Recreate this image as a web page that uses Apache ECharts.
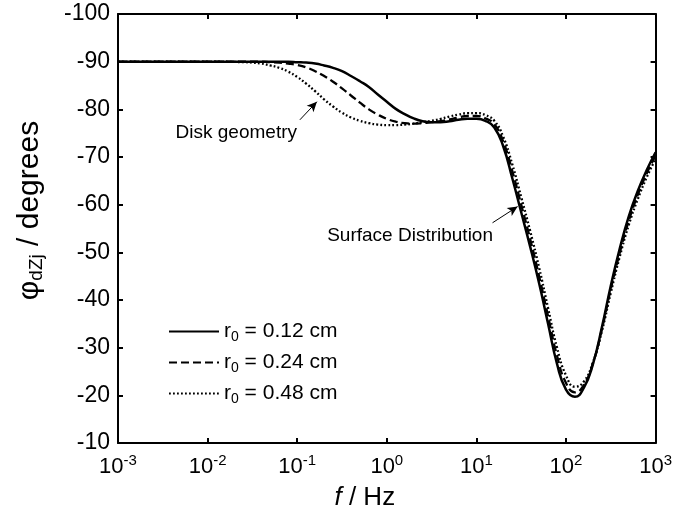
<!DOCTYPE html>
<html>
<head>
<meta charset="utf-8">
<script src="https://cdn.jsdelivr.net/npm/echarts@6/dist/echarts.min.js"></script>
<style>
  html, body { margin: 0; padding: 0; background: #fff; }
  #chart { width: 675px; height: 517px; }
</style>
</head>
<body>
<div id="chart"></div>
<script>
// Phase angle of the impedance vs. frequency for three electrode radii
// x values are log10(f / Hz)
const log10Freq = [-3, -2, -1.6, -1.5, -1.4, -1.3, -1.2, -1.1, -1.0, -0.9, -0.8, -0.7, -0.6, -0.5, -0.4, -0.3, -0.2, -0.1,
  0.0, 0.1, 0.2, 0.3, 0.4, 0.5, 0.6, 0.7, 0.8, 0.9, 1.0, 1.1, 1.2, 1.3, 1.4, 1.5, 1.6, 1.7, 1.8, 1.9,
  2.0, 2.1, 2.2, 2.3, 2.4, 2.5, 2.6, 2.7, 2.8, 2.9, 3.0];

const radii = [0.12, 0.24, 0.48];

const phaseR012 = [-90, -90, -90, -90, -90, -90, -90, -90, -89.9, -89.8, -89.6, -89.2, -88.7, -88.0, -87.0, -85.9, -84.7, -83.1,
  -81.6, -80.1, -79.0, -78.1, -77.5, -77.3, -77.3, -77.5, -77.8, -78.0, -78.0, -77.6, -76.2, -72.2, -65.6, -58.4, -51.2, -43.5, -35.0, -26.6,
  -21.2, -19.7, -21.6, -26.5, -34.2, -43.0, -50.8, -57.5, -62.8, -67.2, -71.0];

const phaseR024 = [-90, -90, -90, -90, -90, -89.9, -89.8, -89.6, -89.3, -88.8, -88.0, -87.0, -85.8, -84.4, -82.9, -81.4, -80.0, -78.9,
  -78.0, -77.4, -77.1, -77.0, -77.1, -77.3, -77.5, -77.9, -78.3, -78.6, -78.6, -78.1, -76.9, -73.2, -67.1, -60.0, -52.8, -45.0, -36.6, -28.3,
  -22.6, -20.6, -22.2, -26.7, -33.8, -42.3, -49.9, -56.6, -62.0, -66.5, -70.3];

const phaseR048 = [-90, -90, -89.9, -89.8, -89.6, -89.2, -88.7, -87.9, -86.8, -85.4, -83.8, -82.1, -80.6, -79.3, -78.3, -77.6, -77.1, -76.8,
  -76.7, -76.7, -76.8, -77.0, -77.3, -77.6, -78.0, -78.5, -78.9, -79.2, -79.2, -78.8, -77.6, -74.2, -68.5, -61.6, -54.5, -46.8, -38.3, -30.0,
  -24.2, -21.8, -22.9, -26.9, -33.4, -41.5, -49.1, -55.7, -61.1, -65.7, -69.6];

const yTicks = { min: -100, max: -10, step: 10 };
const xTicks = { min: -3, max: 3, step: 1 };

const FONT = 'Liberation Sans, Arial, sans-serif';

function pairs(values) {
  return log10Freq.map((lf, i) => [lf, values[i]]);
}

const seriesNames = radii.map(r => 'r0 = ' + r.toFixed(2) + ' cm');
const lineStyles = [
  { type: 'solid', width: 2.5 },
  { type: [8, 4], width: 2.3 },
  { type: [1.8, 2.2], width: 2.3 }
];
const seriesValues = [phaseR012, phaseR024, phaseR048];

const chart = echarts.init(document.getElementById('chart'), null, { renderer: 'canvas' });

const axisCommon = {
  axisLine: { show: true, onZero: false, lineStyle: { color: '#000', width: 2 } },
  axisTick: { show: true, inside: true, length: 5, lineStyle: { color: '#000', width: 2 } },
  splitLine: { show: false }
};

const series = seriesValues.map((vals, i) => ({
  name: seriesNames[i],
  type: 'line',
  data: pairs(vals),
  smooth: 0.5,
  showSymbol: false,
  symbol: 'none',
  lineStyle: Object.assign({ color: '#000' }, lineStyles[i]),
  itemStyle: { color: '#000' },
  z: 3 - i
}));

// annotation arrows and texts
series[0].markLine = {
  silent: true,
  symbol: ['none', 'arrow'],
  symbolSize: [7, 10],
  label: { show: false },
  lineStyle: { color: '#000', type: 'solid', width: 1 },
  data: [
    [{ coord: [-0.97, -77.8] }, { coord: [-0.78, -81.6] }],
    [{ coord: [1.18, -56.2] }, { coord: [1.46, -59.6] }]
  ]
};
series[0].markPoint = {
  silent: true,
  symbol: 'rect',
  symbolSize: 0,
  data: [
    { coord: [-1.68, -75.0], value: 'Disk geometry' },
    { coord: [0.26, -53.4], value: 'Surface Distribution' }
  ],
  label: {
    show: true, position: 'inside', color: '#000', fontFamily: FONT, fontSize: 19,
    formatter: p => p.value
  }
};

chart.setOption({
  animation: false,
  backgroundColor: '#fff',
  grid: { left: 118, right: 19, top: 14, bottom: 74, containLabel: false },
  legend: {
    orient: 'vertical',
    left: 163,
    top: 316,
    itemWidth: 50,
    itemHeight: 14,
    itemGap: 8,
    data: seriesNames,
    itemStyle: { opacity: 0 },
    formatter: name => '{t|r}{s|0}{t|' + name.slice(2) + '}',
    textStyle: {
      color: '#000',
      fontFamily: FONT,
      rich: {
        t: { fontSize: 21, fontFamily: FONT, color: '#000' },
        s: { fontSize: 14, fontFamily: FONT, color: '#000', padding: [11, 0, 0, 0] }
      }
    }
  },
  xAxis: [
    Object.assign({}, axisCommon, {
      type: 'value', position: 'bottom',
      min: xTicks.min, max: xTicks.max, interval: xTicks.step,
      name: '{i|f}{n| / Hz}',
      nameLocation: 'middle',
      nameGap: 42,
      nameTextStyle: {
        padding: [0, 44, 0, 0],
        rich: {
          i: { fontSize: 26, fontStyle: 'italic', fontFamily: FONT, color: '#000' },
          n: { fontSize: 26, fontFamily: FONT, color: '#000' }
        }
      },
      axisLabel: {
        margin: 10,
        color: '#000',
        formatter: v => '{b|10}{e|' + v + '}',
        rich: {
          b: { fontSize: 22, fontFamily: FONT, color: '#000' },
          e: { fontSize: 15, fontFamily: FONT, color: '#000', padding: [0, 0, 12, 0] }
        }
      }
    }),
    Object.assign({}, axisCommon, {
      type: 'value', position: 'top',
      min: xTicks.min, max: xTicks.max, interval: xTicks.step,
      axisLabel: { show: false }
    })
  ],
  yAxis: [
    Object.assign({}, axisCommon, {
      type: 'value', position: 'left', inverse: true,
      min: yTicks.min, max: yTicks.max, interval: yTicks.step,
      name: '{p|φ}{s|dZj}{p| / degrees}',
      nameLocation: 'middle',
      nameGap: 72,
      nameRotate: 90,
      nameTextStyle: {
        padding: [0, 0, 0, 36],
        rich: {
          p: { fontSize: 30, fontFamily: FONT, color: '#000' },
          s: { fontSize: 19, fontFamily: FONT, color: '#000', padding: [14, 0, 0, 0] }
        }
      },
      axisLabel: { margin: 8, color: '#000', fontSize: 23, fontFamily: FONT }
    }),
    Object.assign({}, axisCommon, {
      type: 'value', position: 'right', inverse: true,
      min: yTicks.min, max: yTicks.max, interval: yTicks.step,
      axisLabel: { show: false }
    })
  ],
  series: series
});
</script>
</body>
</html>
